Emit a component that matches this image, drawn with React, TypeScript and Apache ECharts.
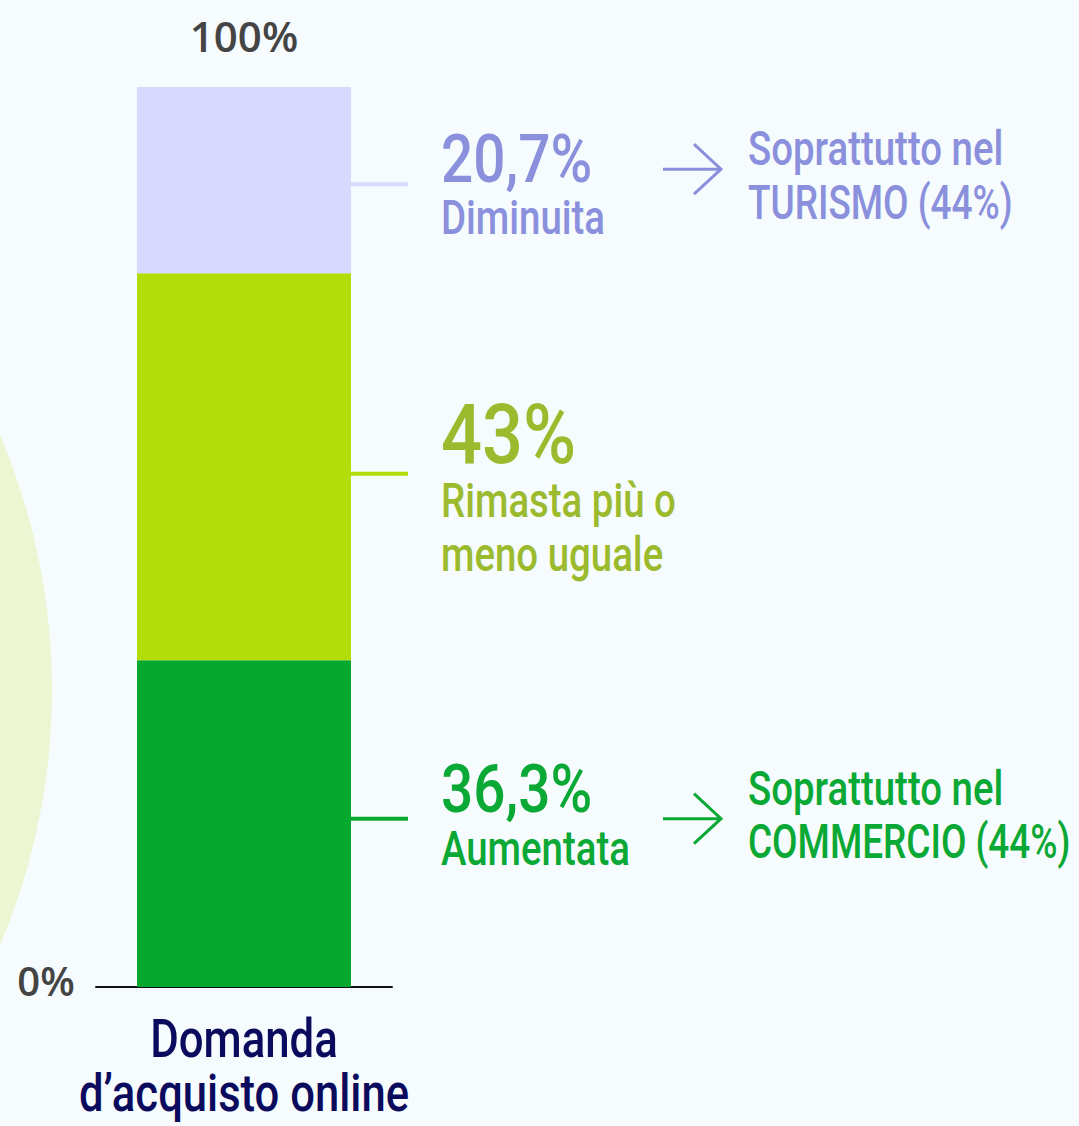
import React, { useEffect, useRef } from "react";
import * as echarts from "echarts";

// ---- data ----
const categories = ["Domanda\nd’acquisto online"];
const segmentNames = ["Aumentata", "Rimasta più o\nmeno uguale", "Diminuita"];
const segmentValues = [36.3, 43, 20.7];
const valueLabels = ["36,3%", "43%", "20,7%"];
const notes = ["Soprattutto nel\nCOMMERCIO (44%)", "", "Soprattutto nel\nTURISMO (44%)"];
const axisTicks = ["0%", "100%"];

// ---- style ----
const barColors = ["#06a92e", "#b3dc08", "#d7d9fe"];
const textColors = ["#0aa835", "#9cba2e", "#8a90dc"];
const COND = "Roboto, 'Liberation Sans', sans-serif";
const ROUND = "'Open Sans', 'Noto Sans', sans-serif";
const BAR_WIDTH = 214;
const WORD_SCALE = 0.8;
const CAPS_SCALE = 0.77;
const NUM_SCALE = 0.86;
// per segment layout (relative to connector line)
const lineNudge = [-5, 7, 4];
const valueDy = [-29, -40, -25];
const valueSize = [66, 84, 66];
const descDy = [[30], [27, 81], [34]];
const noteDy = [[-30, 23], [], [-35, 18]];
const arrowDy = [0, 0, -15];
const catSize = [54, 51];
const catScale = [0.81, 0.855];
const catDy = [51, 107];

function condText(x: number, y: number, text: string, color: string, size: number, scale: number, align = "left") {
  return {
    type: "text",
    x,
    y,
    scaleX: scale,
    style: {
      text,
      fill: color,
      fontSize: size,
      fontWeight: 500,
      fontFamily: COND,
      align,
      verticalAlign: "middle",
    },
  };
}

export default function App() {
  const ref = useRef<HTMLDivElement>(null);
  useEffect(() => {
    document.body.style.margin = "0";
    const chart = echarts.init(ref.current!, undefined, { renderer: "svg" });
    chart.setOption({
      animation: false,
      backgroundColor: "#f6fbfd",
      grid: { left: 96, top: 87, width: 296, height: 900 },
      xAxis: {
        type: "category",
        data: categories,
        axisLine: { lineStyle: { color: "#111111", width: 2 } },
        axisTick: { show: false },
        axisLabel: { show: false },
      },
      yAxis: { type: "value", min: 0, max: 100, show: false },
      series: segmentValues.map((v, i) => ({
        type: "bar",
        name: segmentNames[i],
        stack: "total",
        barWidth: BAR_WIDTH,
        data: [v],
        itemStyle: { color: barColors[i] },
        z: 3,
      })),
    });

    const xc = chart.convertToPixel({ xAxisIndex: 0 }, 0) as number;
    const xRight = xc + BAR_WIDTH / 2;
    const y0 = chart.convertToPixel({ yAxisIndex: 0 }, 0) as number;
    const y100 = chart.convertToPixel({ yAxisIndex: 0 }, 100) as number;
    const graphics: any[] = [
      {
        type: "circle",
        shape: { cx: -599, cy: 690, r: 651 },
        style: { fill: "#ecf6d3" },
        z: -10,
        silent: true,
      },
      {
        type: "text",
        x: xc,
        y: y100 - 52,
        style: {
          text: axisTicks[1],
          fill: "#444444",
          fontSize: 42,
          fontWeight: 600,
          fontFamily: ROUND,
          align: "center",
          verticalAlign: "middle",
        },
      },
      {
        type: "text",
        x: 46,
        y: y0 - 7,
        style: {
          text: axisTicks[0],
          fill: "#444444",
          fontSize: 40,
          fontWeight: 600,
          fontFamily: ROUND,
          align: "center",
          verticalAlign: "middle",
        },
      },
    ];
    // category label (condensed)
    categories[0].split("\n").forEach((line, k) => {
      graphics.push(condText(xc, y0 + catDy[k], line, "#0b0b5e", catSize[k], catScale[k], "center"));
    });

    let base = 0;
    segmentValues.forEach((v, i) => {
      const ya = chart.convertToPixel({ yAxisIndex: 0 }, base) as number;
      const yb = chart.convertToPixel({ yAxisIndex: 0 }, base + v) as number;
      base += v;
      const ly = (ya + yb) / 2 + lineNudge[i];
      const tx = xRight + 90;
      graphics.push({
        type: "line",
        shape: { x1: xRight, y1: ly, x2: xRight + 57, y2: ly },
        style: { stroke: barColors[i], lineWidth: 4 },
      });
      graphics.push(condText(tx, ly + valueDy[i], valueLabels[i], textColors[i], valueSize[i], NUM_SCALE));
      segmentNames[i].split("\n").forEach((line, k) => {
        graphics.push(condText(tx, ly + descDy[i][k], line, textColors[i], 48, WORD_SCALE));
      });
      if (notes[i]) {
        const ay = ly + arrowDy[i];
        graphics.push({
          type: "line",
          shape: { x1: xRight + 312, y1: ay, x2: xRight + 370, y2: ay },
          style: { stroke: textColors[i], lineWidth: 3 },
        });
        graphics.push({
          type: "polyline",
          shape: {
            points: [
              [xRight + 343, ay - 25],
              [xRight + 370, ay],
              [xRight + 343, ay + 25],
            ],
          },
          style: { stroke: textColors[i], lineWidth: 3, fill: null },
        });
        notes[i].split("\n").forEach((line, k) => {
          graphics.push(
            condText(xRight + 397, ly + noteDy[i][k], line, textColors[i], 48, k === 0 ? WORD_SCALE : CAPS_SCALE)
          );
        });
      }
    });
    chart.setOption({ graphic: graphics });
    return () => chart.dispose();
  }, []);
  return (
    <div
      ref={ref}
      style={{ position: "absolute", left: 0, top: 0, width: 1079, height: 1126 }}
    />
  );
}
